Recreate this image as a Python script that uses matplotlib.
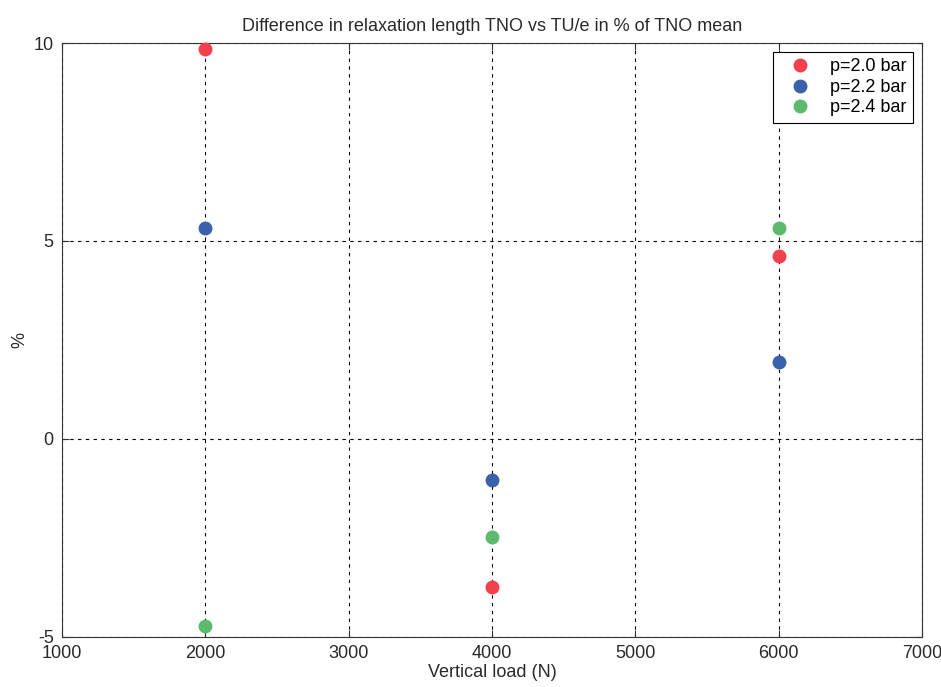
import matplotlib
matplotlib.use("Agg")
import matplotlib.pyplot as plt

# relaxation length difference, TNO vs TU/e, in % of TNO mean
loads = [2000, 4000, 6000]
diff_p20 = [9.85, -3.75, 4.62]
diff_p22 = [5.33, -1.03, 1.95]
diff_p24 = [-4.72, -2.48, 5.32]

labels = ["p=2.0 bar", "p=2.2 bar", "p=2.4 bar"]
colors = ["#f2404c", "#3a62aa", "#5cba6c"]

plt.rcParams["font.family"] = ["Liberation Sans", "DejaVu Sans"]
plt.rcParams["font.size"] = 13
plt.rcParams["axes.unicode_minus"] = False

fig = plt.figure(figsize=(9.41, 6.87), dpi=100)
ax = fig.add_axes([0.0659, 0.0728, 0.9139, 0.8646])

for vals, lab, col in zip([diff_p20, diff_p22, diff_p24], labels, colors):
    ax.plot(loads, vals, "o", color=col, markersize=9, label=lab,
            clip_on=False, zorder=3)

ax.set_xlim(1000, 7000)
ax.set_ylim(-5, 10)
ax.set_xticks(range(1000, 7001, 1000))
ax.set_yticks([-5, 0, 5, 10])
ax.grid(True, color="black", linestyle=(0, (3, 4)), linewidth=0.8)
ax.tick_params(direction="in", length=5, top=True, right=True, pad=6,
               colors="#333333", labelcolor="#2a2a2a")
for side in ax.spines.values():
    side.set_color("#333333")
    side.set_linewidth(0.8)

ax.set_title("Difference in relaxation length TNO vs TU/e in % of TNO mean",
             fontsize=13, pad=9, color="#2a2a2a")
ax.set_xlabel("Vertical load (N)", labelpad=1, color="#2a2a2a")
ax.set_ylabel("%", labelpad=4, color="#2a2a2a")

leg = ax.legend(loc="upper right", bbox_to_anchor=(0.9895, 0.985),
                borderaxespad=0, numpoints=1, fancybox=False,
                framealpha=1, edgecolor="black",
                borderpad=0.35, handletextpad=0.5, labelspacing=0.2,
                handlelength=2.3)
leg.get_frame().set_linewidth(0.8)

fig.savefig("out.png", dpi=100)
